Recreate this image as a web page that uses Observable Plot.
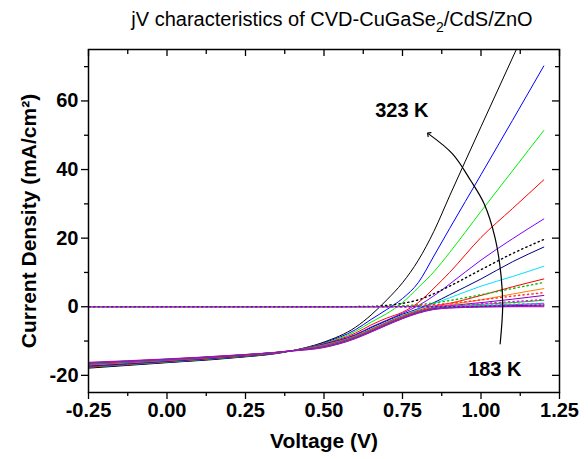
<!DOCTYPE html>
<html>
<head>
<meta charset="utf-8">
<script src="https://cdn.jsdelivr.net/npm/d3@7"></script>
<script src="https://cdn.jsdelivr.net/npm/@observablehq/plot@0.6"></script>
<style>
  html, body { margin: 0; padding: 0; background: #fff; }
  #chart { position: relative; width: 588px; height: 459px; }
</style>
</head>
<body>
<div id="chart"></div>
<script>
// Voltage grid (V)
const V = [-0.25, 0, 0.2, 0.4, 0.5, 0.6, 0.65, 0.7, 0.75, 0.8, 0.85, 0.9, 1.0, 1.1, 1.2];

// Illuminated jV curves (mA/cm^2), temperatures 323 K ... 183 K
const lightT = [323, 313, 303, 293, 283, 273, 263, 253, 243, 233, 223, 213, 203, 193, 183];
const j323 = [-17.9, -16.3, -15.0, -12.8, -10.3, -6.0, -2.4, 2.0, 7.0, 13.5, 22.0, 32.3, 52.5, 72.5, 92.5];
const j313 = [-17.7, -16.2, -14.9, -12.8, -10.5, -6.7, -3.7, -0.8, 2.4, 7.0, 14.8, 22.8, 38.5, 54.3, 70.2];
const j303 = [-17.6, -16.1, -14.8, -12.8, -10.7, -7.2, -4.5, -2.0, 1.2, 5.6, 10.2, 15.8, 27.8, 39.6, 51.4];
const j293 = [-17.5, -16.0, -14.7, -12.8, -10.8, -7.7, -5.3, -3.3, -1.6, 1.2, 5.4, 10.0, 20.2, 28.6, 37.0];
const j283 = [-17.3, -15.9, -14.6, -12.8, -10.9, -8.1, -5.9, -3.9, -1.9, 0.3, 3.2, 6.6, 13.6, 19.8, 25.6];
const j273 = [-17.2, -15.8, -14.6, -12.8, -11.0, -8.3, -6.1, -4.1, -2.2, -0.6, 1.2, 3.5, 8.1, 13.1, 17.4];
const j263 = [-17.0, -15.7, -14.5, -12.8, -11.1, -8.5, -6.4, -4.4, -2.5, -0.8, 0.9, 2.6, 6.0, 8.8, 11.8];
const j253 = [-16.9, -15.6, -14.5, -12.8, -11.2, -8.6, -6.6, -4.6, -2.7, -1.1, 0.2, 1.0, 3.3, 5.8, 8.1];
const j243 = [-16.8, -15.5, -14.4, -12.8, -11.3, -8.7, -6.8, -4.8, -2.9, -1.3, -0.1, 0.6, 2.0, 3.7, 5.3];
const j233 = [-16.7, -15.5, -14.4, -12.8, -11.4, -8.8, -6.9, -4.9, -3.0, -1.4, -0.3, 0.3, 1.2, 2.2, 3.3];
const j223 = [-16.6, -15.4, -14.3, -12.8, -11.5, -8.9, -7.0, -5.0, -3.1, -1.5, -0.4, 0.1, 0.7, 1.2, 1.9];
const j213 = [-16.5, -15.4, -14.3, -12.8, -11.6, -9.0, -7.1, -5.1, -3.2, -1.6, -0.5, -0.1, 0.3, 0.6, 1.0];
const j203 = [-16.4, -15.3, -14.3, -12.8, -11.7, -9.1, -7.2, -5.2, -3.3, -1.7, -0.6, -0.2, 0.1, 0.3, 0.5];
const j193 = [-16.3, -15.3, -14.2, -12.9, -11.8, -9.2, -7.3, -5.3, -3.4, -1.8, -0.7, -0.3, 0.0, 0.1, 0.2];
const j183 = [-16.2, -15.2, -14.2, -12.9, -11.9, -9.3, -7.4, -5.4, -3.5, -1.9, -0.8, -0.4, -0.1, 0.0, 0.0];
const lightJ = [j323, j313, j303, j293, j283, j273, j263, j253, j243, j233, j223, j213, j203, j193, j183];

// Dark jV curves (mA/cm^2)
const darkT = [323, 303, 293, 263, 213, 203];
const d323 = [0, 0, 0, 0, 0, 0.05, 0.1, 0.4, 1.0, 2.0, 3.8, 6.0, 10.8, 15.5, 19.6];
const d303 = [0, 0, 0, 0, 0, 0, 0, 0.1, 0.3, 0.6, 1.1, 1.8, 3.5, 5.3, 7.1];
const d293 = [0, 0, 0, 0, 0, 0, 0, 0, 0.1, 0.3, 0.6, 1.0, 2.0, 3.1, 4.1];
const d263 = [0, 0, 0, 0, 0, 0, 0, 0, 0, 0, 0, 0.1, 0.4, 0.7, 1.0];
const d213 = [0, 0, 0, 0, 0, 0, 0, 0, 0, 0.1, 0.2, 0.4, 0.9, 1.5, 2.1];
const d203 = [0, 0, 0, 0, 0, 0, 0, 0, 0, 0, 0, 0, 0.1, 0.3, 0.5];
const darkJ = [d323, d303, d293, d263, d213, d203];

// Annotation arc (temperature arrow) in data coordinates
const arcV = [1.061, 1.069, 1.064, 1.045, 1.010, 0.967, 0.910, 0.833];
const arcJ = [-10.8, 0, 9, 20, 30, 36.8, 44.5, 50.4];
const labels = [{V: 0.748, J: 57.1, text: "323 K"}, {V: 1.044, J: -18.4, text: "183 K"}];

// Ticks
const xMajor = [-0.25, 0, 0.25, 0.5, 0.75, 1.0, 1.25];
const xMinor = [-0.125, 0.125, 0.375, 0.625, 0.875, 1.125];
const yMajor = [-20, 0, 20, 40, 60];
const yMinor = [-10, 10, 30, 50, 70];

// Styles
const lightColors = ["#000000", "#0000ff", "#00ee00", "#ff0000", "#8000ff", "#000080", "#00e0ff",
  "#ff0000", "#ff8000", "#8000c0", "#00c000", "#ff00ff", "#800080", "#008080", "#c000c0"];
const darkColors = ["#000000", "#00c000", "#ff3030", "#00c0c0", "#ff00ff", "#8000c0"];

const W = 588, H = 459;
const mT = 49, mR = 29, mB = 67, mL = 88;
const innerW = W - mL - mR, innerH = H - mT - mB;
const font = "'Liberation Sans', Arial, Helvetica, sans-serif";

const marks = [];
lightJ.forEach((arr, i) => {
  marks.push(Plot.line(V.map((v, k) => ({V: v, J: arr[k], T: lightT[i]})),
    {x: "V", y: "J", stroke: lightColors[i], strokeWidth: 1, curve: "monotone-x", clip: true}));
});
darkJ.forEach((arr, i) => {
  marks.push(Plot.line(V.map((v, k) => ({V: v, J: arr[k], T: darkT[i]})),
    {x: "V", y: "J", stroke: darkColors[i], strokeWidth: 1.4, strokeDasharray: "1.3,3.2",
     strokeDashoffset: i * 0.75, curve: "monotone-x", clip: true}));
});
marks.push(Plot.line(arcV.map((v, k) => ({V: v, J: arcJ[k]})),
  {x: "V", y: "J", stroke: "black", strokeWidth: 1.2, curve: "catmull-rom", markerEnd: "arrow"}));
marks.push(Plot.text(labels, {x: "V", y: "J", text: "text", fontSize: 20, fontWeight: "bold", fill: "black", textAnchor: "middle", lineAnchor: "middle"}));

// axes: outward ticks on bottom/left
marks.push(Plot.axisX(xMajor, {anchor: "bottom", tickSize: 7, tickPadding: 3, strokeWidth: 1.3, tickFormat: d => d.toFixed(2), fontSize: 20, fontWeight: "bold", label: null}));
marks.push(Plot.axisX(xMinor, {anchor: "bottom", tickSize: 4, strokeWidth: 1.3, tickFormat: () => "", label: null}));
marks.push(Plot.axisY(yMajor, {anchor: "left", tickSize: 7, tickPadding: 3, strokeWidth: 1.3, tickFormat: d => String(d), fontSize: 20, fontWeight: "bold", label: null}));
marks.push(Plot.axisY(yMinor, {anchor: "left", tickSize: 4, strokeWidth: 1.3, tickFormat: () => "", label: null}));
// inward ticks on top/right
marks.push(Plot.ruleX(xMajor, {x: d => d, insetBottom: innerH - 7, stroke: "black", strokeWidth: 1.3}));
marks.push(Plot.ruleX(xMinor, {x: d => d, insetBottom: innerH - 5, stroke: "black", strokeWidth: 1.3}));
marks.push(Plot.ruleY(yMajor, {y: d => d, insetLeft: innerW - 7, stroke: "black", strokeWidth: 1.3}));
marks.push(Plot.ruleY(yMinor, {y: d => d, insetLeft: innerW - 4, stroke: "black", strokeWidth: 1.3}));
marks.push(Plot.frame({stroke: "black", strokeWidth: 1.5}));
// axis titles
marks.push(Plot.text(["Voltage (V)"], {frameAnchor: "bottom", dy: 49, text: d => d, fontSize: 21, fontWeight: "bold", textAnchor: "middle", lineAnchor: "middle"}));
marks.push(Plot.text(["Current Density (mA/cm²)"], {frameAnchor: "left", dx: -59, rotate: -90, text: d => d, fontSize: 21, fontWeight: "bold", textAnchor: "middle", lineAnchor: "middle"}));

const chart = Plot.plot({
  width: W, height: H,
  marginTop: mT, marginRight: mR, marginBottom: mB, marginLeft: mL,
  x: {domain: [-0.25, 1.25], axis: null},
  y: {domain: [-25, 75], axis: null},
  style: {fontFamily: font, background: "#fff", color: "black"},
  marks
});

// Title with subscript (real SVG text)
const t = d3.select(chart).append("text")
  .attr("x", 332).attr("y", 26)
  .attr("text-anchor", "middle")
  .attr("font-family", font).attr("font-size", 20).attr("fill", "black");
t.append("tspan").text("jV characteristics of CVD-CuGaSe");
t.append("tspan").attr("font-size", 14).attr("dy", 6).text("2");
t.append("tspan").attr("dy", -6).text("/CdS/ZnO");

document.getElementById("chart").appendChild(chart);
</script>
</body>
</html>
